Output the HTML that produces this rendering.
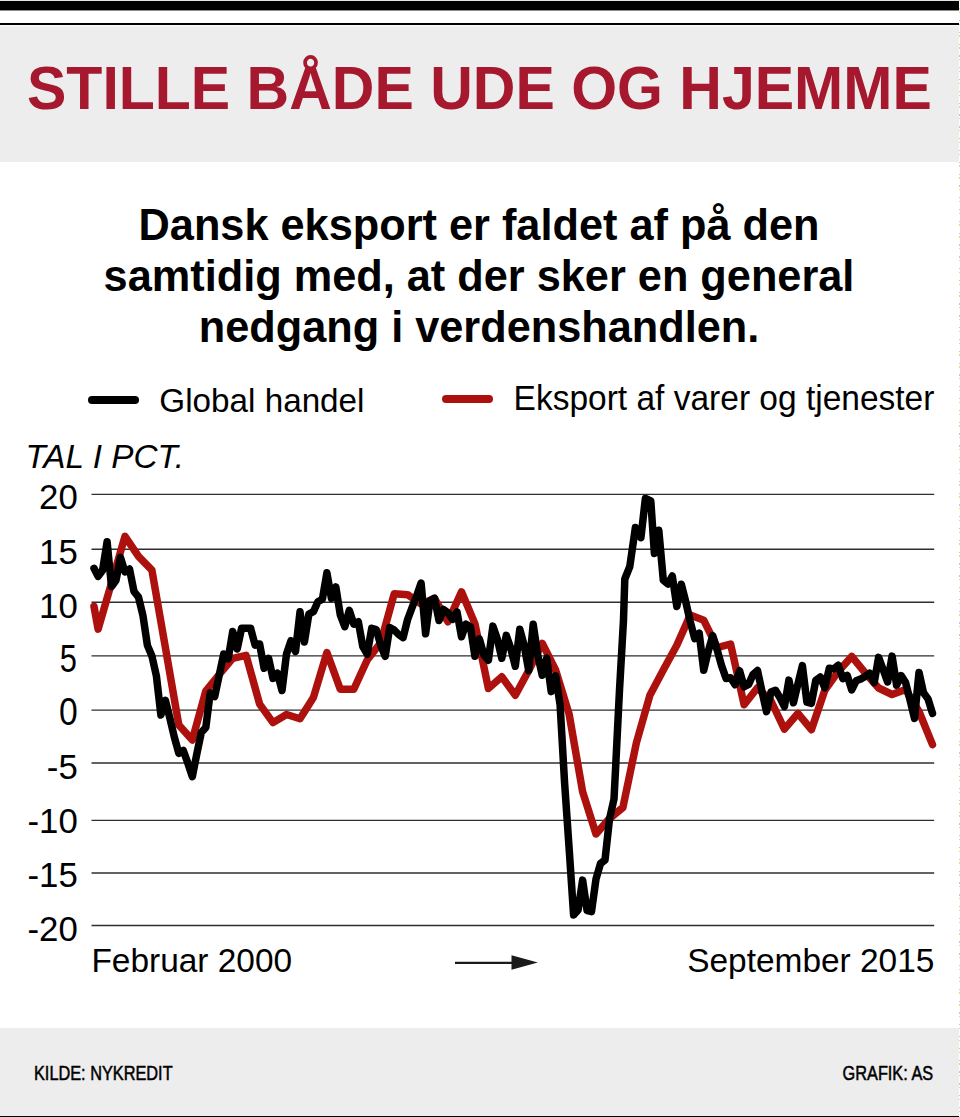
<!DOCTYPE html>
<html lang="da">
<head>
<meta charset="utf-8">
<title>Stille både ude og hjemme</title>
<style>
  html,body{margin:0;padding:0;background:#fff;overflow:hidden;}
  body{width:960px;height:1117px;position:relative;overflow:hidden;
       font-family:"Liberation Sans",Arial,Helvetica,sans-serif;color:#000;}
  .abs{position:absolute;white-space:nowrap;line-height:0;height:0;margin:0;padding:0;}
  #topbar{position:absolute;left:0;top:1px;width:959px;height:10px;background:linear-gradient(to bottom,#000 0,#000 9px,#8c8c8c 9px,#8c8c8c 10px);}
  #topline{position:absolute;left:0;top:23px;width:959px;height:2px;background:#000;}
  #header{position:absolute;left:0;top:25px;width:959px;height:137px;background:linear-gradient(to bottom,#fbf8f9 0,#fbf8f9 1px,#f3f1f2 1px,#f3f1f2 2px,#ededed 2px);}
  #topedge{position:absolute;left:0;top:0;width:959px;height:1px;background:#e4e4e4;}
  h1{font-weight:bold;color:#a6182e;font-size:59.0px;letter-spacing:0px;
      left:27.0px;top:88.96px;line-height:0;height:0;transform:scaleY(1.04);transform-origin:0 0.3465em;}
  .sub{transform:scaleY(1.035);transform-origin:50% 0.3465em;font-weight:bold;font-size:43.3px;color:#000;left:0;width:958.0px;text-align:center;height:0;line-height:0;}
  .leg{font-size:33.25px;color:#000;transform:scaleY(1.02);transform-origin:0 0.3465em;}
  .sw{position:absolute;height:8px;border-radius:4px;}
  #tal{font-style:italic;font-size:33.3px;left:25.5px;top:456.86px;height:0;line-height:0;transform:scaleY(1.01);transform-origin:0 0.3465em;}
  .bot{transform:scaleY(1.01);transform-origin:0 0.3465em;font-size:33.45px;top:960.91px;height:0;line-height:0;}
  #footer{position:absolute;left:0;top:1028px;width:959px;height:88px;background:#ededed;border-bottom:1px solid #000;}
  .foot{font-size:20px;top:1073.37px;height:0;line-height:0;color:#000;-webkit-text-stroke:0.5px #000;}
  #edge{position:absolute;left:959px;top:0;width:1px;height:1117px;
    background:repeating-linear-gradient(to bottom,#efd96a 0,#efd96a 1.3px,#fff 1.3px,#fff 8.1px,#a5d3d6 8.1px,#a5d3d6 9.4px,#fff 9.4px,#fff 11.815px);}
  svg{position:absolute;left:0;top:0;}
  svg text{font-family:"Liberation Sans",Arial,Helvetica,sans-serif;}
</style>
</head>
<body>
<div id="topedge"></div>
<div id="edge"></div>
<div id="topbar"></div>
<div id="topline"></div>
<header id="header"></header>
<h1 class="abs">STILLE BÅDE UDE OG HJEMME</h1>
<p class="abs sub" style="top:225.0px">Dansk eksport er faldet af på den</p>
<p class="abs sub" style="top:276.3px">samtidig med, at der sker en general</p>
<p class="abs sub" style="top:327.4px">nedgang i verdenshandlen.</p>
<div class="sw" style="left:87.6px;top:396.2px;width:51.4px;background:#000"></div>
<div class="abs leg" style="left:159.3px;top:400.68px">Global handel</div>
<div class="sw" style="left:441.8px;top:395.3px;width:51.4px;background:#ad110d"></div>
<div class="abs leg" style="font-size:33.5px;left:513.6px;top:399.19px">Eksport af varer og tjenester</div>
<div class="abs" id="tal">TAL I PCT.</div>
<svg width="960" height="1117" viewBox="0 0 960 1117">
  <g stroke="#2e2e2e" stroke-width="1.35" fill="none">
      <line x1="91.5" x2="934.2" y1="494.4" y2="494.4"/>
      <line x1="91.5" x2="934.2" y1="549.2" y2="549.2"/>
      <line x1="91.5" x2="934.2" y1="602.2" y2="602.2"/>
      <line x1="91.5" x2="934.2" y1="655.8" y2="655.8"/>
      <line x1="91.5" x2="934.2" y1="710.1" y2="710.1"/>
      <line x1="91.5" x2="934.2" y1="763.0" y2="763.0"/>
      <line x1="91.5" x2="934.2" y1="820.3" y2="820.3"/>
      <line x1="91.5" x2="934.2" y1="873.0" y2="873.0"/>
      <line x1="91.5" x2="934.2" y1="925.5" y2="925.5"/>
  </g>
  <g font-size="34.8" fill="#000" text-anchor="end">
      <text transform="translate(77.8,509.2) scale(1.0,1.028)">20</text>
      <text transform="translate(77.8,563.6) scale(1.0,1.028)">15</text>
      <text transform="translate(77.8,617.5) scale(1.0,1.028)">10</text>
      <text transform="translate(76.9,671.5) scale(0.885,1.116)">5</text>
      <text transform="translate(77.8,725.2) scale(0.968,1.116)">0</text>
      <text transform="translate(77.8,779.2) scale(1.0,1.028)">-5</text>
      <text transform="translate(77.8,833.2) scale(1.0,1.028)">-10</text>
      <text transform="translate(77.8,887.1) scale(1.0,1.028)">-15</text>
      <text transform="translate(77.8,940.9) scale(1.0,1.028)">-20</text>
  </g>
  <polyline fill="none" stroke="#ad110d" stroke-width="7.5" stroke-linejoin="round" stroke-linecap="round"
    points="94.0,606.5 98.1,629.1 111.5,583.0 125.0,536.3 138.5,556.4 151.9,570.2 165.4,647.6 178.8,725.0 192.3,740.0 205.8,691.0 219.2,674.5 232.7,658.3 246.1,655.4 259.6,704.1 273.0,722.6 286.5,714.5 300.0,718.8 313.4,697.5 326.9,652.5 340.3,689.2 353.8,689.2 367.2,660.0 380.7,642.7 394.2,593.7 407.6,594.7 421.1,604.0 434.5,598.5 448.0,621.8 461.5,591.8 474.9,623.6 488.4,688.5 501.8,676.8 515.3,695.2 528.7,670.5 542.2,643.3 555.7,670.3 569.1,714.0 582.6,791.6 596.0,834.0 609.5,818.5 622.9,807.5 636.4,742.7 649.9,695.2 663.3,670.0 676.8,645.2 690.2,615.1 703.7,620.2 717.2,647.7 730.6,644.0 744.1,704.8 757.5,687.8 771.0,701.0 784.4,729.1 797.9,713.4 811.4,729.7 824.8,690.3 838.3,671.4 851.7,656.4 865.2,672.9 878.6,688.0 892.1,694.5 905.6,689.5 919.0,711.5 932.5,744.7"/>
  <polyline fill="none" stroke="#000" stroke-width="7.5" stroke-linejoin="round" stroke-linecap="round"
    points="94.0,568.3 98.1,576.4 102.6,570.2 107.1,541.8 111.5,586.5 116.0,580.2 120.5,557.5 125.0,572.0 129.5,569.0 134.0,591.5 138.5,597.1 142.9,615.3 147.4,645.4 151.9,656.0 156.4,676.0 160.9,715.0 165.4,700.3 169.9,718.3 174.3,737.0 178.8,753.3 183.3,750.5 187.8,763.0 192.3,776.7 196.8,754.0 201.3,732.5 205.8,727.5 210.2,693.0 214.7,696.6 219.2,675.2 223.7,654.0 228.2,658.7 232.7,631.5 237.2,649.0 241.6,628.2 246.1,628.2 250.6,628.2 255.1,645.1 259.6,644.0 264.1,668.3 268.6,658.3 273.0,678.4 277.5,673.3 282.0,690.5 286.5,654.0 291.0,640.7 295.5,651.5 300.0,611.8 304.4,642.0 308.9,614.0 313.4,611.7 317.9,601.7 322.4,599.2 326.9,572.8 331.4,598.3 335.8,586.9 340.3,615.0 344.8,626.7 349.3,610.3 353.8,624.2 358.3,621.7 362.8,646.7 367.2,654.2 371.7,628.3 376.2,629.5 380.7,645.0 385.2,656.3 389.7,627.5 394.2,630.0 398.6,634.5 403.1,637.6 407.6,619.5 412.1,607.5 416.6,596.0 421.1,583.1 425.6,633.8 430.0,600.5 434.5,598.2 439.0,620.5 443.5,609.5 448.0,612.8 452.5,619.3 457.0,611.9 461.5,636.8 465.9,624.1 470.4,626.8 474.9,656.2 479.4,638.9 483.9,655.0 488.4,660.2 492.9,626.1 497.3,639.0 501.8,658.3 506.3,635.4 510.8,648.5 515.3,666.3 519.8,629.3 524.3,646.0 528.7,670.6 533.2,624.3 537.7,655.0 542.2,675.3 546.7,658.2 551.2,691.6 555.7,675.8 560.1,705.0 564.6,783.0 569.1,848.0 573.6,915.0 578.1,910.0 582.6,880.1 587.1,910.7 591.5,911.6 596.0,879.0 600.5,863.5 605.0,860.0 609.5,819.0 614.0,799.0 615.9,762.0 619.5,690.0 623.5,620.0 624.8,579.0 629.8,566.5 635.4,527.5 640.9,537.7 645.4,498.5 650.8,501.0 654.4,553.4 658.8,530.3 663.3,580.2 667.8,584.0 672.3,576.0 676.8,606.5 681.3,584.2 685.8,602.0 690.2,621.4 694.7,638.6 699.2,633.2 703.7,670.3 708.2,651.5 712.7,635.7 717.2,650.0 721.6,665.7 726.1,678.5 730.6,677.8 735.1,684.7 739.6,670.7 744.1,686.8 748.6,684.4 753.0,674.6 757.5,670.5 762.0,691.5 766.5,711.6 771.0,692.1 775.5,690.3 780.0,697.8 784.4,706.6 788.9,680.1 793.4,702.8 797.9,684.0 802.4,665.6 806.9,702.2 811.4,703.4 815.8,680.2 820.3,677.0 824.8,687.7 829.3,668.3 833.8,668.9 838.3,665.3 842.8,678.6 847.2,675.4 851.7,689.9 856.2,680.8 860.7,679.0 865.2,676.4 869.7,673.1 874.2,682.6 878.6,657.4 883.1,669.5 887.6,682.0 892.1,656.1 896.6,685.1 901.1,675.6 905.6,682.6 910.1,700.2 914.5,718.4 919.0,672.4 923.5,692.7 928.0,698.9 932.5,713.4"/>
  <g>
    <line x1="455" x2="513" y1="962.8" y2="962.8" stroke="#1a1a1a" stroke-width="2.2"/>
    <polygon points="511.5,955.3 537.8,962.6 511.5,969.8" fill="#1a1a1a"/>
  </g>
</svg>
<div class="abs bot" style="left:91.4px">Februar 2000</div>
<div class="abs bot" style="right:25.600000000000023px">September 2015</div>
<footer id="footer"></footer>
<div class="abs foot" style="left:33.5px;transform:scaleX(0.815);transform-origin:0 0">KILDE: NYKREDIT</div>
<div class="abs foot" style="right:27.299999999999955px;transform:scaleX(0.815);transform-origin:100% 0">GRAFIK: AS</div>
</body>
</html>
